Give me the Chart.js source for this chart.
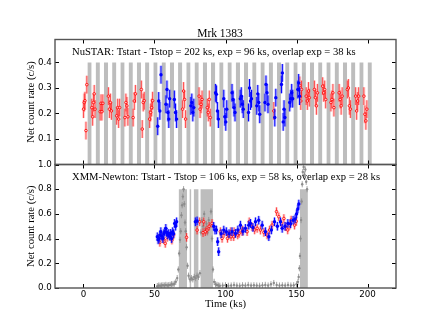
<!DOCTYPE html>
<html lang="en">
<head>
  <meta charset="UTF-8">
  <title>Mrk 1383</title>
  <script src="https://cdn.jsdelivr.net/npm/chart.js"></script>
  <style>
    body { margin: 0; background: #fff; }
    #wrap { position: relative; width: 440px; height: 330px; }
    #wrap canvas { position: absolute; left: 0; top: 0; }
  </style>
</head>
<body>
<div id="wrap">
  <canvas id="topChart" width="440" height="330"></canvas>
  <canvas id="botChart" width="440" height="330"></canvas>
</div>
<script>
// axis ticks
const xTicks = [0, 50, 100, 150, 200];
const yTopTicks = [0.1, 0.2, 0.3, 0.4];
const yBotTicks = [0.0, 0.2, 0.4, 0.6, 0.8, 1.0];

// NuSTAR occultation bands (ks)
const nuBandStart = [2.8, 8.6, 14.4, 20.2, 26.0, 31.8, 37.6, 43.4, 49.2, 55.0, 60.8, 66.6, 72.4, 78.2, 84.0, 89.8, 95.6, 101.4, 107.2, 113.0, 118.8, 124.6, 130.4, 136.2, 142.0, 147.8, 153.6, 159.4, 165.2, 171.0, 176.8, 182.6, 188.4, 194.2, 200.0];
const nuBandEnd = [5.8, 11.6, 17.4, 23.2, 29.0, 34.8, 40.6, 46.4, 52.2, 58.0, 63.8, 69.6, 75.4, 81.2, 87.0, 92.8, 98.6, 104.4, 110.2, 116.0, 121.8, 127.6, 133.4, 139.2, 145.0, 150.8, 156.6, 162.4, 168.2, 174.0, 179.8, 185.6, 191.4, 197.2, 203.0];
const nuBandTop = 0.4;

// NuSTAR rates [ks, c/s]: all / overlapping with XMM
const nuAll = [
  [0.1,.217],[0.6,.243],[1.1,.250],[1.8,.133],[2.4,.313],
  [5.9,.223],[6.5,.187],[7.1,.243],[7.6,.277],[8.2,.217],
  [11.8,.207],[12.4,.240],[13.0,.207],[13.7,.240],
  [17.6,.268],[18.3,.217],[19.0,.243],[19.7,.210],
  [23.4,.191],[24.1,.223],[24.8,.178],[25.5,.223],
  [29.2,.184],[29.9,.243],[30.6,.230],[31.3,.187],
  [35.0,.184],[35.8,.249],[36.6,.277],
  [40.8,.294],[41.4,.139],[42.1,.243],[42.8,.250],
  [46.6,.178],[47.3,.204],[48.0,.223],[48.7,.250],
  [69.8,.217],[70.5,.288],[71.2,.255],[71.9,.178],
  [81.4,.268],[82.1,.217],[82.8,.236],[83.5,.255],
  [87.2,.223],[87.9,.204],[88.6,.255],[89.3,.184],
  [134.0,.210],
  [152.3,.310],[153.0,.249],[153.5,.294],
  [156.8,.268],[157.6,.249],[158.4,.288],[159.0,.262],
  [162.6,.294],[163.3,.262],[164.0,.230],[164.7,.281],
  [168.4,.307],[169.1,.281],[169.8,.294],[170.5,.255],
  [174.2,.243],[174.9,.255],[175.6,.281],[176.3,.223],
  [180.0,.281],[180.7,.255],[181.4,.230],[182.1,.268],
  [185.8,.294],[186.5,.300],[187.2,.230],[187.9,.217],
  [191.6,.268],[192.3,.210],[193.0,.249],[193.7,.268],
  [197.4,.268],[198.1,.197],[198.8,.171],[199.5,.217]
];
const nuOverlap = [
  [52.3,.150],[53.0,.249],[53.8,.210],[54.6,.352],
  [58.1,.236],[58.8,.294],[59.5,.204],[60.1,.178],[60.7,.258],
  [64.0,.255],[64.8,.204],[65.6,.178],
  [75.6,.230],[76.3,.243],[77.0,.204],[77.7,.223],
  [93.0,.281],[93.6,.275],[94.3,.210],[95.0,.178],
  [98.8,.258],[99.5,.187],[100.2,.167],[100.9,.217],
  [104.6,.281],[105.3,.255],[106.0,.223],[106.7,.204],
  [110.4,.258],[111.1,.268],[111.8,.236],[112.5,.217],
  [116.2,.204],[116.9,.300],[117.6,.249],[118.3,.258],
  [122.0,.230],[122.7,.277],[123.4,.243],[124.1,.197],
  [127.8,.243],[128.5,.314],[129.2,.281],[129.9,.236],
  [134.7,.184],[135.4,.262],
  [139.4,.314],[140.0,.359],[140.6,.167],[141.2,.217],[141.8,.184],
  [145.2,.243],[145.9,.258],[146.6,.281],[147.3,.258],
  [150.9,.294],[151.5,.320],[152.1,.268]
];
const nuErr = 0.035;

// XMM-Newton flaring-background intervals (ks)
const xmmBandStart = [67.0, 74.6, 77.6, 82.3, 152.3];
const xmmBandEnd = [72.9, 76.0, 81.1, 91.3, 158.0];
const xmmBandTop = 0.8;

// XMM-Newton rates [ks, c/s]
const xmmAll = [
  [53.0,.40],[53.8,.37],[54.8,.42],[56.4,.394],[57.6,.361],[59.0,.41],[61.1,.421],[62.3,.388],[63.5,.43],
  [72.6,.41],[80.0,.469],[81.8,.536],[84.2,.448],[84.7,.536],[85.8,.456],[87.0,.469],[88.5,.50],[90.5,.523],
  [96.4,.456],[97.6,.402],[99.0,.442],[101.4,.402],[102.3,.429],[103.7,.456],[103.9,.415],[105.8,.415],
  [106.1,.456],[108.6,.429],[109.6,.442],[111.7,.456],[112.0,.469],[115.2,.456],[116.7,.536],[118.7,.496],
  [120.5,.47],[122.3,.483],[124.6,.469],[127.0,.45],[129.3,.429],[131.0,.47],[132.8,.509],[135.9,.618],
  [137.5,.577],[139.5,.52],[141.1,.563],[142.2,.496],[143.8,.47],[145.3,.509],[146.2,.55],[148.6,.509],[149.8,.54]
];
const xmmOverlap = [
  [52.0,.415],[52.6,.39],[53.2,.40],[53.9,.43],[54.5,.456],[55.2,.42],[55.9,.40],[56.6,.44],[57.3,.456],
  [58.0,.483],[58.6,.45],[59.3,.43],[60.0,.44],[60.7,.42],[61.4,.442],[62.1,.40],[62.8,.456],[63.5,.44],
  [64.2,.523],[64.9,.50],[65.6,.536],[78.8,.536],[80.0,.543],
  [91.7,.50],[92.6,.469],[93.6,.47],[94.5,.375],[95.2,.294],[96.9,.44],[98.8,.469],[100.6,.456],[102.5,.44],
  [104.6,.456],[107.0,.442],[108.7,.47],[110.5,.509],[112.3,.46],[114.0,.483],[116.4,.509],[117.6,.523],
  [119.3,.49],[121.1,.536],[123.4,.549],[125.8,.509],[128.1,.456],[130.5,.415],[132.3,.47],[134.5,.536],
  [136.5,.50],[138.7,.536],[139.9,.483],[141.9,.50],[143.9,.523],[145.8,.52],[147.6,.549],[149.0,.56],
  [150.0,.60],[150.9,.64],[151.6,.68]
];
const xmmErr = 0.035;

// XMM-Newton background rate [ks, c/s]
const xmmBkg = [
  [52,.015],[53,.02],[54,.018],[55,.02],[56,.022],[57,.02],[58,.025],[59,.02],[60,.022],[61,.025],[62,.03],
  [63,.028],[64,.035],[65,.05],[66,.08],[66.8,.15],[67.4,.28],[68,.39],[68.5,.46],[69,.59],[69.5,.67],
  [70,.74],[70.5,.80],[71,.68],[71.5,.53],[72,.46],[72.6,.33],[73.3,.18],[74,.10],[75,.07],[76,.08],
  [77,.07],[78,.09],[79,.08],[80,.10],[81,.09],[82,.12],[82.7,.45],[83.4,.55],[84.2,.50],[85,.60],
  [85.8,.48],[86.6,.52],[87.4,.45],[88.2,.55],[89,.50],[89.8,.62],[90.5,.40],[91.2,.15],[92,.05],
  [93,.03],[94,.025],[95,.02],[96,.018],[98,.02],[100,.022],[102,.018],[104,.02],[106,.025],[108,.02],
  [110,.018],[112,.022],[114,.02],[116,.025],[118,.02],[120,.022],[122,.02],[124,.018],[126,.022],
  [128,.025],[130,.02],[132,.03],[134,.04],[136,.025],[138,.02],[140,.022],[142,.02],[144,.025],
  [146,.02],[148,.022],[150,.03],[151,.05],[151.5,.09],[152,.16],[152.4,.26],[152.8,.40],[153.2,.55],
  [153.6,.70],[154,.84],[154.4,.94],[155,.98],[155.6,.92],[156.2,.96],[156.8,.86],[157.4,.80]
];
const bkgErr = 0.025;

const SERIF = '"Liberation Serif", "Times New Roman", serif';
const SANS = '"DejaVu Sans", sans-serif';
const RED = '#ff0000', BLUE = '#0000ff', GREY = '#8c8c8c', BAND = '#bdbdbd';

const pts = arr => arr.map(p => ({ x: p[0], y: p[1] }));

function bandSets(starts, ends, top) {
  return starts.map((a, i) => ({
    type: 'line',
    data: [{ x: a, y: 0 }, { x: a, y: top }, { x: ends[i], y: top }, { x: ends[i], y: 0 }],
    fill: 'origin', backgroundColor: BAND, borderColor: 'rgba(0,0,0,0)', borderWidth: 0,
    pointRadius: 0, tension: 0, order: 10
  }));
}

function pointSet(arr, kind, err) {
  const ds = { type: 'scatter', data: pts(arr), err: err, pointStyle: 'circle' };
  if (kind === 'red') {
    Object.assign(ds, { pointRadius: 1.3, borderWidth: 1, borderColor: 'rgba(255,0,0,0.85)', backgroundColor: 'rgba(255,255,255,0.6)',
      errColor: 'rgba(255,0,0,0.65)', errHalo: 'rgba(255,120,120,0.3)', order: 3 });
  } else if (kind === 'blue') {
    Object.assign(ds, { pointRadius: 1.7, borderWidth: 0, backgroundColor: BLUE,
      errColor: BLUE, errHalo: 'rgba(80,80,255,0.35)', order: 2 });
  } else {
    Object.assign(ds, { pointRadius: 1.2, borderWidth: 0, backgroundColor: GREY,
      errColor: 'rgba(140,140,140,0.8)', errHalo: null, order: 5 });
  }
  return ds;
}

// error bars, drawn just before each dataset's points
const errorBars = {
  id: 'errorBars',
  beforeDatasetDraw(chart, args) {
    const ds = chart.data.datasets[args.index];
    if (!ds.err) return;
    const ctx = chart.ctx, ys = chart.scales.y, a = chart.chartArea;
    ctx.save();
    ctx.beginPath();
    ctx.rect(a.left, a.top, a.right - a.left, a.bottom - a.top);
    ctx.clip();
    args.meta.data.forEach((el, i) => {
      const v = ds.data[i].y;
      const y0 = ys.getPixelForValue(v - ds.err), y1 = ys.getPixelForValue(v + ds.err);
      if (ds.errHalo) {
        ctx.strokeStyle = ds.errHalo; ctx.lineWidth = 3;
        ctx.beginPath(); ctx.moveTo(el.x, y0); ctx.lineTo(el.x, y1); ctx.stroke();
      }
      ctx.strokeStyle = ds.errColor; ctx.lineWidth = 1;
      ctx.beginPath(); ctx.moveTo(el.x, y0); ctx.lineTo(el.x, y1); ctx.stroke();
    });
    ctx.restore();
  }
};

// frame, inward ticks and labels
const frame = {
  id: 'frame',
  afterDraw(chart, args, opts) {
    const ctx = chart.ctx, a = chart.chartArea, xs = chart.scales.x, ys = chart.scales.y;
    ctx.save();
    ctx.strokeStyle = '#000'; ctx.lineWidth = 1;
    xTicks.forEach(t => {
      const px = Math.round(xs.getPixelForValue(t)) + 0.5;
      ctx.beginPath();
      ctx.moveTo(px, a.bottom); ctx.lineTo(px, a.bottom - 4);
      ctx.moveTo(px, a.top); ctx.lineTo(px, a.top + 4);
      ctx.stroke();
    });
    opts.yTicks.forEach(t => {
      const py = Math.round(ys.getPixelForValue(t)) + 0.5;
      ctx.beginPath();
      ctx.moveTo(a.left, py); ctx.lineTo(a.left + 4, py);
      ctx.moveTo(a.right, py); ctx.lineTo(a.right - 4, py);
      ctx.stroke();
    });
    ctx.strokeStyle = '#555'; ctx.lineWidth = 1.4;
    ctx.strokeRect(a.left, a.top, a.right - a.left, a.bottom - a.top);

    ctx.fillStyle = '#000';
    ctx.font = '10.6px ' + SERIF;
    ctx.textAlign = 'left'; ctx.textBaseline = 'alphabetic';
    ctx.fillText(opts.label, a.left + 17, a.top + 15.5);
    ctx.save();
    ctx.translate(31.5, (a.top + a.bottom) / 2);
    ctx.rotate(-Math.PI / 2);
    ctx.textAlign = 'center'; ctx.textBaseline = 'middle';
    ctx.fillText('Net count rate (c/s)', 0, 0);
    ctx.restore();
    if (opts.title) {
      ctx.font = '11.5px ' + SERIF;
      ctx.textAlign = 'center';
      ctx.fillText(opts.title, chart.width / 2, a.top - 3);
    }
    if (opts.xTitle) {
      ctx.textAlign = 'center';
      ctx.fillText(opts.xTitle, (a.left + a.right) / 2, a.bottom + 19);
    }
    ctx.restore();
  }
};

function makeChart(id, cfg) {
  return new Chart(document.getElementById(id), {
    type: 'scatter',
    data: { datasets: cfg.datasets },
    options: {
      responsive: false, animation: false, devicePixelRatio: 1,
      layout: { padding: cfg.padding },
      plugins: { legend: { display: false }, tooltip: { enabled: false }, frame: cfg.frame },
      scales: {
        x: {
          type: 'linear', min: -20, max: 220,
          grid: { display: false, drawTicks: false }, border: { display: false },
          ticks: { display: cfg.showX, font: { family: SANS, size: 8.7 }, color: '#000', padding: 2, maxRotation: 0 },
          afterBuildTicks: s => { s.ticks = xTicks.map(v => ({ value: v })); },
          afterFit: s => { s.height = 20; }
        },
        y: {
          type: 'linear', min: cfg.yMin, max: cfg.yMax,
          grid: { display: false, drawTicks: false }, border: { display: false },
          ticks: { font: { family: SANS, size: 8.7 }, color: '#000', padding: 3.3, callback: v => v.toFixed(1) },
          afterBuildTicks: s => { s.ticks = cfg.yTicks.map(v => ({ value: v })); },
          afterFit: s => { s.width = 40; }
        }
      }
    },
    plugins: [errorBars, frame]
  });
}

makeChart('topChart', {
  datasets: [
    pointSet(nuOverlap, 'blue', nuErr),
    pointSet(nuAll, 'red', nuErr),
    ...bandSets(nuBandStart, nuBandEnd, nuBandTop)
  ],
  padding: { left: 15, right: 44, top: 39.5, bottom: 145.5 },
  showX: false, yMin: 0, yMax: 0.49, yTicks: yTopTicks,
  frame: { yTicks: yTopTicks, title: 'Mrk 1383',
    label: 'NuSTAR: Tstart - Tstop = 202 ks, exp = 96 ks, overlap exp = 38 ks' }
});

makeChart('botChart', {
  datasets: [
    pointSet(xmmOverlap, 'blue', xmmErr),
    pointSet(xmmAll, 'red', xmmErr),
    pointSet(xmmBkg, 'grey', bkgErr),
    ...bandSets(xmmBandStart, xmmBandEnd, xmmBandTop)
  ],
  padding: { left: 15, right: 44, top: 164.5, bottom: 22 },
  showX: true, yMin: 0, yMax: 1.0, yTicks: yBotTicks,
  frame: { yTicks: yBotTicks, xTitle: 'Time (ks)',
    label: 'XMM-Newton: Tstart - Tstop = 106 ks, exp = 58 ks, overlap exp = 28 ks' }
});
</script>
</body>
</html>
